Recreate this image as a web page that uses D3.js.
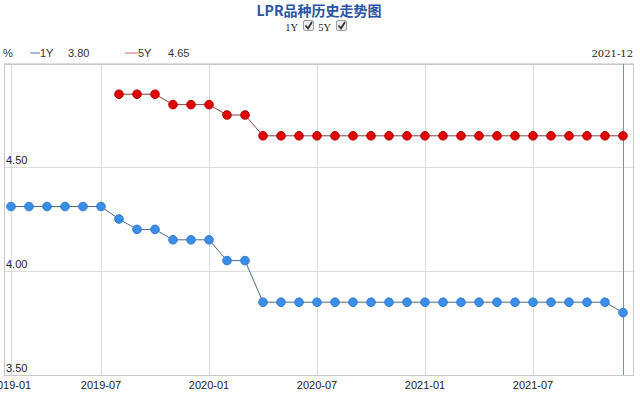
<!DOCTYPE html>
<html>
<head>
<meta charset="utf-8">
<script src="https://cdn.jsdelivr.net/npm/d3@7"></script>
<style>
  body { margin: 0; background: #fff; }
  svg { display: block; font-family: "Liberation Sans", Arial, sans-serif; }
</style>
</head>
<body>
<svg id="chart"></svg>
<script>
// months on the x axis (one record per month, 2019-02 absent in source)
var months = ["2019-01","2019-03","2019-04","2019-05","2019-06","2019-07","2019-08","2019-09","2019-10","2019-11","2019-12",
  "2020-01","2020-02","2020-03","2020-04","2020-05","2020-06","2020-07","2020-08","2020-09","2020-10","2020-11","2020-12",
  "2021-01","2021-02","2021-03","2021-04","2021-05","2021-06","2021-07","2021-08","2021-09","2021-10","2021-11","2021-12"];
var lpr1y = [4.31,4.31,4.31,4.31,4.31,4.31,4.25,4.20,4.20,4.15,4.15,
  4.15,4.05,4.05,3.85,3.85,3.85,3.85,3.85,3.85,3.85,3.85,3.85,
  3.85,3.85,3.85,3.85,3.85,3.85,3.85,3.85,3.85,3.85,3.85,3.80];
var lpr5y = [null,null,null,null,null,null,4.85,4.85,4.85,4.80,4.80,
  4.80,4.75,4.75,4.65,4.65,4.65,4.65,4.65,4.65,4.65,4.65,4.65,
  4.65,4.65,4.65,4.65,4.65,4.65,4.65,4.65,4.65,4.65,4.65,4.65];
var xTicks = ["2019-01","2019-07","2020-01","2020-07","2021-01","2021-07"];
var yTicks = [3.5, 4.0, 4.5, 5.0];

var width = 640, height = 395;
var plot = { left: 4, right: 633, top: 64, bottom: 375 };

var svg = d3.select("#chart").attr("width", width).attr("height", height);

var x = d3.scalePoint().domain(months).range([11, 623]);
var y = d3.scaleLinear().domain([3.5, 5.0]).range([375, 63]);

// title
svg.append("text")
  .attr("x", 319).attr("y", 16)
  .attr("text-anchor", "middle")
  .style("font-family", "'Noto Sans CJK SC', sans-serif")
  .style("font-size", "14px")
  .style("font-weight", "bold")
  .style("fill", "#2a55a5")
  .text("LPR品种历史走势图");

// series toggles with checkboxes
function checkbox(cx, label) {
  svg.append("text").attr("x", cx - 5).attr("y", 30.5)
    .attr("text-anchor", "end")
    .style("font-family", "'Liberation Serif', serif")
    .style("font-size", "10.5px").style("fill", "#222").text(label);
  svg.append("rect").attr("x", cx + 0.5).attr("y", 20.5).attr("width", 10).attr("height", 10)
    .attr("rx", 1.5).style("fill", "#eee").style("stroke", "#999");
  svg.append("path")
    .attr("d", "M" + (cx + 2.5) + ",25.5 L" + (cx + 5) + ",28.5 L" + (cx + 9) + ",22")
    .style("fill", "none").style("stroke", "#333").style("stroke-width", 1.8);
}
checkbox(303, "1Y");
checkbox(336, "5Y");

// legend line
var legend = svg.append("g").style("font-size", "11px").style("fill", "#333");
legend.append("text").attr("x", 3).attr("y", 57).text("%");
legend.append("line").attr("x1", 30).attr("x2", 40).attr("y1", 53).attr("y2", 53)
  .style("stroke", "#4a7db5");
legend.append("text").attr("x", 40).attr("y", 57).text("1Y");
legend.append("text").attr("x", 68).attr("y", 57).text(lpr1y[lpr1y.length - 1].toFixed(2));
legend.append("line").attr("x1", 125).attr("x2", 138).attr("y1", 53).attr("y2", 53)
  .style("stroke", "#e06060");
legend.append("text").attr("x", 138).attr("y", 57).text("5Y");
legend.append("text").attr("x", 168).attr("y", 57).text(lpr5y[lpr5y.length - 1].toFixed(2));
svg.append("text").attr("x", 633).attr("y", 57).attr("text-anchor", "end")
  .style("font-family", "'DejaVu Serif', serif")
  .style("font-size", "10px").style("fill", "#222")
  .text(months[months.length - 1]);

// gridlines
svg.append("g").selectAll("line").data(yTicks).join("line")
  .attr("x1", plot.left).attr("x2", plot.right)
  .attr("y1", d => Math.round(y(d)) + 0.5).attr("y2", d => Math.round(y(d)) + 0.5)
  .style("stroke", "#dcdcdc");
svg.append("g").selectAll("line").data(xTicks).join("line")
  .attr("x1", d => Math.round(x(d)) + 0.5).attr("x2", d => Math.round(x(d)) + 0.5)
  .attr("y1", plot.top).attr("y2", plot.bottom)
  .style("stroke", "#dcdcdc");

// frame
svg.append("rect")
  .attr("x", plot.left + 0.5).attr("y", plot.top + 0.5)
  .attr("width", plot.right - plot.left).attr("height", plot.bottom - plot.top)
  .style("fill", "none").style("stroke", "#c8c8c8");

// y labels inside plot
svg.append("g").selectAll("text").data(yTicks.filter(d => d < 5)).join("text")
  .attr("x", 6).attr("y", d => y(d) - 3)
  .style("font-size", "11px").style("fill", "#222")
  .text(d => d.toFixed(2));

// x labels
svg.append("g").selectAll("text").data(xTicks).join("text")
  .attr("x", d => x(d)).attr("y", 389)
  .attr("text-anchor", "middle")
  .style("font-size", "11px").style("fill", "#222")
  .text(d => d);

// crosshair at latest month
svg.append("line")
  .attr("x1", Math.round(x(months[months.length - 1])) + 0.5)
  .attr("x2", Math.round(x(months[months.length - 1])) + 0.5)
  .attr("y1", plot.top).attr("y2", plot.bottom)
  .style("stroke", "#6a93c4");

function drawSeries(values, lineColor, fill, stroke) {
  var pts = months.map((m, i) => ({ m: m, v: values[i] })).filter(d => d.v != null);
  var line = d3.line().x(d => x(d.m)).y(d => y(d.v));
  svg.append("path").datum(pts)
    .attr("d", line)
    .style("fill", "none").style("stroke", lineColor).style("stroke-width", 1);
  svg.append("g").selectAll("circle").data(pts).join("circle")
    .attr("cx", d => x(d.m)).attr("cy", d => y(d.v)).attr("r", 4.3)
    .style("fill", fill).style("stroke", stroke).style("stroke-width", 1);
}
drawSeries(lpr5y, "#8a4040", "#e00000", "#b80000");
drawSeries(lpr1y, "#4a6a8a", "#3a8ee8", "#2f7bd0");
</script>
</body>
</html>
